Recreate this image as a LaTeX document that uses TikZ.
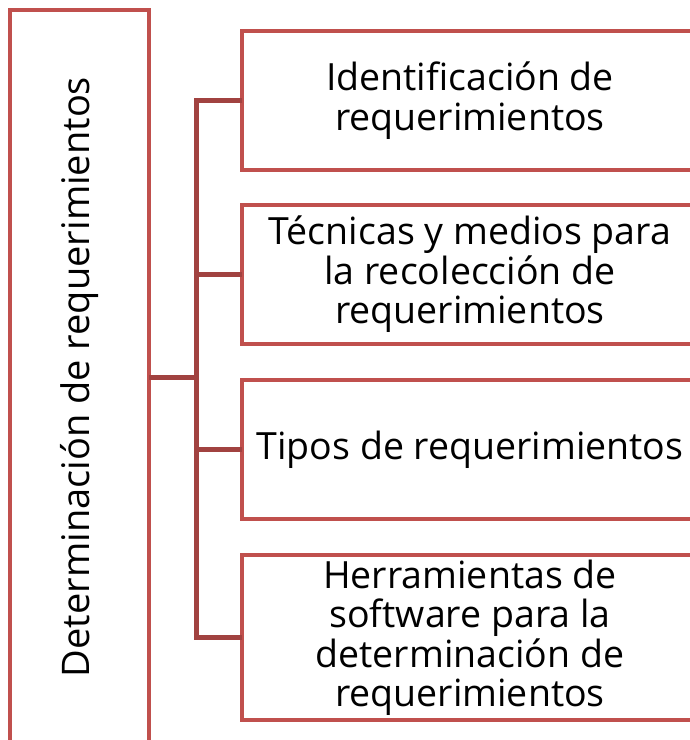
\documentclass[tikz,border=0pt]{standalone}
\usepackage{fontspec}
\setmainfont{Open Sans}
\definecolor{boxred}{HTML}{C0504D}
\definecolor{linkred}{HTML}{A14240}
\tikzset{
  rbox/.style={draw=boxred, line width=4pt, rectangle, outer sep=0pt, inner sep=0pt,
    minimum width=456pt, align=center, font=\fontsize{37.5}{39.5}\selectfont},
  link/.style={draw=linkred, line width=5pt, line join=miter}
}
\begin{document}
\begin{tikzpicture}[x=1pt, y=-1pt]
  \useasboundingbox (0,0) rectangle (690,740);

  %% main topic
  \node[rbox, rotate=90, minimum width=734pt, minimum height=139pt,
        font=\fontsize{38}{40}\selectfont] (deter) at (79.5,377) {Determinación de requerimientos};

  %% sub topics
  \node[rbox, minimum height=139pt] (ident) at (470,100.5) {Identificación de\\requerimientos};
  \node[rbox, minimum height=139pt] (tecn) at (470,274.5) {Técnicas y medios para\\la recolección de\\requerimientos};
  \node[rbox, minimum height=139pt] (tipos) at (470,449.5) {Tipos de requerimientos};
  \node[rbox, minimum height=165pt] (herr) at (470,637.5) {Herramientas de\\software para la\\determinación de\\requerimientos};

  %% bracket
  \coordinate (spine) at (196,377);
  \draw[link] (deter.south) -- (spine);
  \draw[link] (ident.west) -- (ident.west -| spine) -- (herr.west -| spine) -- (herr.west);
  \draw[link] (tecn.west -| spine) -- (tecn.west);
  \draw[link] (tipos.west -| spine) -- (tipos.west);

\end{tikzpicture}
\end{document}
